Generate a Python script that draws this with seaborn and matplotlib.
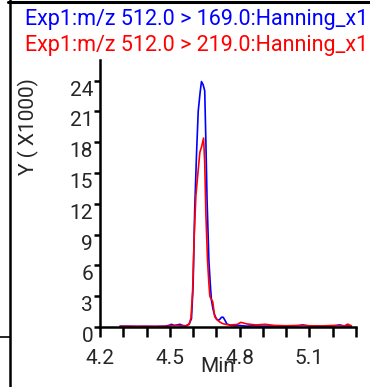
import matplotlib
matplotlib.use("Agg")
import matplotlib.pyplot as plt
import seaborn as sns
import pandas as pd
from matplotlib.lines import Line2D
from matplotlib.ticker import MultipleLocator, FixedLocator

# ---- data (values in thousands) ----
blue_t = [4.286, 4.32, 4.36, 4.40, 4.44, 4.48, 4.50, 4.507, 4.52, 4.535, 4.543, 4.555,
          4.57, 4.583, 4.593, 4.600, 4.607, 4.615, 4.622, 4.630, 4.636, 4.643, 4.650,
          4.655, 4.660, 4.668, 4.675, 4.679, 4.685, 4.692, 4.700, 4.708, 4.715, 4.722,
          4.729, 4.736, 4.745, 4.76, 4.78, 4.80, 4.83, 4.86, 4.90, 4.95, 5.00, 5.05,
          5.07, 5.10, 5.15, 5.20, 5.23, 5.25, 5.28]
blue_v = [0.08, 0.08, 0.06, 0.07, 0.06, 0.08, 0.18, 0.26, 0.15, 0.22, 0.26, 0.15,
          0.12, 0.3, 0.8, 4.0, 11.5, 17.0, 21.0, 22.8, 23.9, 23.6, 23.0,
          18.0, 12.4, 6.4, 3.8, 2.6, 1.8, 1.2, 0.8, 0.65, 0.75, 0.95,
          0.95, 0.7, 0.3, 0.15, 0.12, 0.15, 0.08, 0.12, 0.08, 0.1, 0.08, 0.12,
          0.2, 0.1, 0.08, 0.1, 0.2, 0.1, 0.1]

red_t = [4.286, 4.33, 4.38, 4.43, 4.48, 4.51, 4.53, 4.55, 4.57, 4.583, 4.591, 4.598,
         4.605, 4.612, 4.620, 4.629, 4.637, 4.645, 4.650, 4.655, 4.662, 4.668, 4.672,
         4.678, 4.684, 4.693, 4.703, 4.714, 4.725, 4.74, 4.76, 4.79, 4.805, 4.815,
         4.83, 4.85, 4.87, 4.91, 4.95, 5.00, 5.05, 5.10, 5.15, 5.20, 5.25, 5.264, 5.28]
red_v = [0.06, 0.05, 0.06, 0.05, 0.06, 0.12, 0.15, 0.1, 0.1, 0.25, 0.9, 3.5,
         9.0, 12.8, 14.8, 17.0, 17.6, 18.4, 16.0, 11.0, 6.5, 4.2, 3.0,
         2.7, 2.5, 1.0, 0.7, 0.5, 0.35, 0.25, 0.2, 0.25, 0.45, 0.4,
         0.3, 0.25, 0.2, 0.26, 0.15, 0.12, 0.15, 0.12, 0.1, 0.15, 0.1, 0.28, 0.12]

y_ticks = [0, 3, 6, 9, 12, 15, 18, 21, 24]
x_major = [4.2, 4.5, 4.8, 5.1]
title_blue = "Exp1:m/z 512.0 > 169.0:Hanning_x1"
title_red = "Exp1:m/z 512.0 > 219.0:Hanning_x1"

sns.set_style("white")
plt.rcParams["font.family"] = ["Roboto", "DejaVu Sans"]

W, H = 370, 387
fig = plt.figure(figsize=(W / 100, H / 100), dpi=100)
ax = fig.add_axes([100 / W, 1 - 327 / H, 256 / W, 267 / H])

df_b = pd.DataFrame({"t": blue_t, "v": blue_v})
df_r = pd.DataFrame({"t": red_t, "v": red_v})
sns.lineplot(data=df_b, x="t", y="v", color="#0000ff", lw=1.2, ax=ax,
             estimator=None, sort=False)
sns.lineplot(data=df_r, x="t", y="v", color="#ff0000", lw=1.2, ax=ax,
             estimator=None, sort=False)

ax.set_xlim(4.2, 5.3)
ax.set_ylim(0, 26)
for s in ["top", "right"]:
    ax.spines[s].set_visible(False)
for s in ["left", "bottom"]:
    ax.spines[s].set_linewidth(1.8)
    ax.spines[s].set_color("black")

ax.xaxis.set_major_locator(FixedLocator(x_major))
ax.xaxis.set_minor_locator(MultipleLocator(0.1))
ax.set_xticklabels([f"{v:.1f}" for v in x_major])
ax.set_yticks(y_ticks)
ax.set_yticklabels([str(v) for v in y_ticks])

ax.tick_params(axis="x", which="both", direction="out", length=7.5, width=1.8,
               color="black", bottom=True, labelsize=15, pad=8)
ax.tick_params(axis="y", which="major", direction="out", length=4, width=1.8,
               color="black", left=True, labelsize=15, pad=1)
for lab in ax.get_yticklabels():
    lab.set_va("top")

ax.set_xlabel("Min", fontsize=15)
ax.xaxis.set_label_coords((218 - 100) / 256, -40 / 267)
ax.xaxis.label.set_va("center")
ax.set_ylabel("Y ( X1000)", fontsize=15)
ax.yaxis.set_label_coords((28 - 100) / 256, (327 - 127) / 267)
ax.yaxis.label.set_va("center")

fig.text(25 / W, 1 - 20 / H, title_blue, color="#0000ff", fontsize=15.5,
         ha="left", va="center")
fig.text(25 / W, 1 - 45 / H, title_red, color="#ff0000", fontsize=15.5,
         ha="left", va="center")

# panel frame lines
fig.add_artist(Line2D([9.5 / W, 9.5 / W], [0, 1], transform=fig.transFigure,
                      color="black", lw=1.8))
fig.add_artist(Line2D([8 / W, 1], [1 - 1.5 / H, 1 - 1.5 / H], transform=fig.transFigure,
                      color="black", lw=2.2))
fig.add_artist(Line2D([0, 9.5 / W], [1 - 337 / H, 1 - 337 / H], transform=fig.transFigure,
                      color="black", lw=1.2))

fig.savefig("out.png", dpi=100)
